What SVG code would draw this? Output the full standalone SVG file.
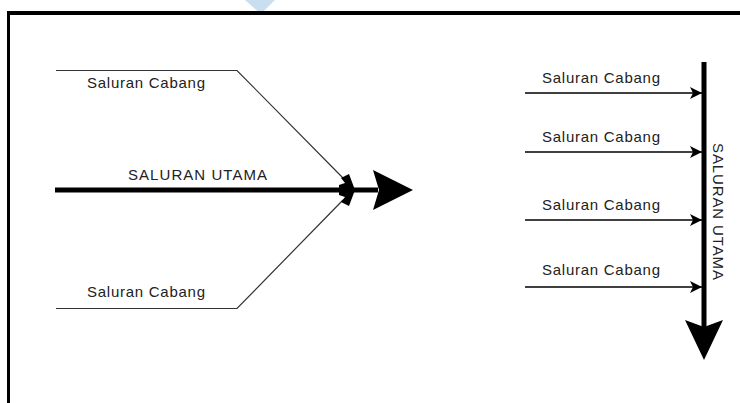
<svg xmlns="http://www.w3.org/2000/svg" width="740" height="403" viewBox="0 0 740 403">
<style>
.lbl{font-family:"Liberation Sans",Arial,sans-serif;font-size:15px;fill:#222}
.thin{fill:none;stroke:#333;stroke-width:1.2}
.hline{fill:none;stroke:#000;stroke-width:1.3}
.thick{fill:none;stroke:#000;stroke-width:5}
.head{fill:#000}
</style>
<defs>
<marker id="sm" markerUnits="userSpaceOnUse" markerWidth="14" markerHeight="14" refX="12" refY="6" orient="auto">
<path d="M0,0 L12,6 L0,12 L3,6 Z" fill="#000"/>
</marker>
</defs>
<polygon points="245,0 275,0 261,14" fill="#c9dff0"/>
<g id="frame">
<rect x="7" y="11" width="733" height="4" fill="#000"/>
<rect x="7" y="11" width="3" height="392" fill="#000"/>
</g>
<g id="connectors">
<polyline class="thin" points="56,70.5 237,70.5 343,178"/>
<polyline class="thin" points="56,308.5 237,308.5 343,200"/>
<line class="thick" x1="55" y1="190" x2="378" y2="190"/>
<path class="head" d="M341,178 L349,174 L355,190 L349,206 L341,202 L345,197 L339,195 L339,185 L345,183 Z"/>
<path class="head" d="M373,170 L413,190 L373,210 L379,190 Z"/>
<line class="thick" x1="704" y1="62" x2="704" y2="328"/>
<path class="head" d="M685,320 L704,360 L723,320 L704,327 Z"/>
<line class="hline" x1="525" y1="93" x2="702" y2="93" marker-end="url(#sm)"/>
<line class="hline" x1="525" y1="152" x2="702" y2="152" marker-end="url(#sm)"/>
<line class="hline" x1="525" y1="220" x2="702" y2="220" marker-end="url(#sm)"/>
<line class="hline" x1="525" y1="287" x2="702" y2="287" marker-end="url(#sm)"/>
</g>
<g id="left-branch-top"><text class="lbl" x="87" y="88" textLength="118" lengthAdjust="spacing">Saluran Cabang</text></g>
<g id="left-main"><text class="lbl" x="128" y="180" textLength="139" lengthAdjust="spacing">SALURAN UTAMA</text></g>
<g id="left-branch-bottom"><text class="lbl" x="87" y="297" textLength="118" lengthAdjust="spacing">Saluran Cabang</text></g>
<g id="right-branch-1"><text class="lbl" x="542" y="83" textLength="118" lengthAdjust="spacing">Saluran Cabang</text></g>
<g id="right-branch-2"><text class="lbl" x="542" y="142" textLength="118" lengthAdjust="spacing">Saluran Cabang</text></g>
<g id="right-branch-3"><text class="lbl" x="542" y="210" textLength="118" lengthAdjust="spacing">Saluran Cabang</text></g>
<g id="right-branch-4"><text class="lbl" x="542" y="275" textLength="118" lengthAdjust="spacing">Saluran Cabang</text></g>
<g id="right-main"><text class="lbl" transform="translate(713,143) rotate(90)" x="0" y="0" textLength="137" lengthAdjust="spacing">SALURAN UTAMA</text></g>
</svg>
